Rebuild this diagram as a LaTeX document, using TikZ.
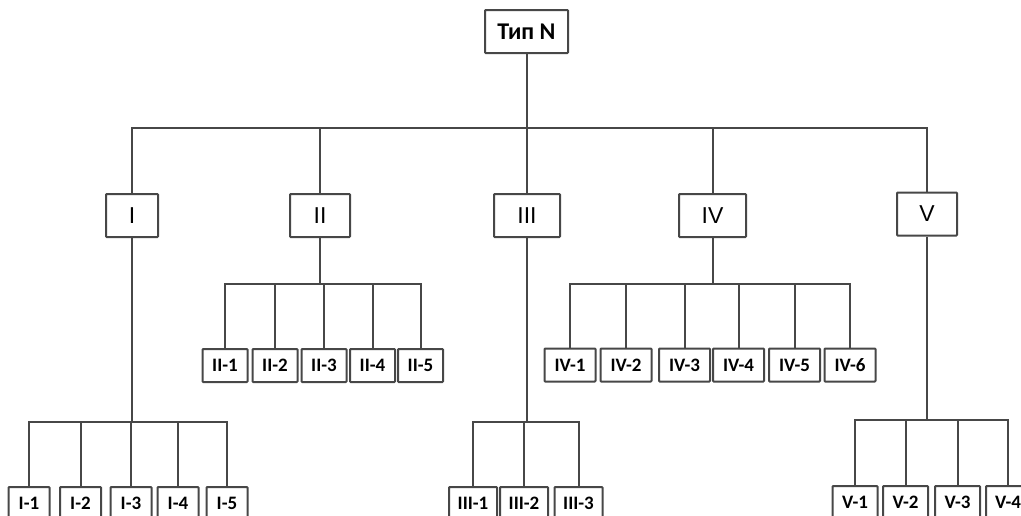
\documentclass[tikz,border=0pt]{standalone}
\usepackage{fontspec}
\setmainfont{Carlito}
\newfontfamily\lsans{Liberation Sans}
\begin{document}
\begin{tikzpicture}[x=1pt,y=-1pt,
  box/.style={draw=black!72, line width=2pt, rounded corners=0.8pt, fill=white, inner sep=0pt},
  topbox/.style={box, minimum width=83pt, minimum height=43pt, font=\fontsize{24}{27}\selectfont\bfseries},
  lvone/.style={box, minimum height=43pt, font=\lsans\fontsize{23}{26}\selectfont},
  leaf/.style={box, minimum height=33pt, font=\fontsize{19}{22}\selectfont\bfseries},
  wire/.style={draw=black!72, line width=2pt}]
\useasboundingbox (0,0) rectangle (1021,515);
\clip (0,0) rectangle (1021,515);
% root
\node[topbox] (top) at (526.5,31.5) {Тип N};
% level 1
\node[lvone, minimum width=52pt] (I) at (132,215.5) {I};
\node[lvone, minimum width=60pt] (II) at (320,215.5) {II};
\node[lvone, minimum width=66pt] (III) at (527,215.5) {III};
\node[lvone, minimum width=67pt] (IV) at (712.5,215.5) {IV};
\node[lvone, minimum width=60pt] (V) at (927,214) {V};
% bus coordinates
\coordinate (b0) at (526.5,128);
\coordinate (bI) at (132,422);
\coordinate (bII) at (320,284);
\coordinate (bIII) at (527,422);
\coordinate (bIV) at (712.5,284);
\coordinate (bV) at (927,420);
% II leaves
\foreach \n/\x in {1/225,2/275,3/324,4/372.5,5/420.5}
  \node[leaf, minimum width=45pt] (II\n) at (\x,365.5) {II-\n};
% IV leaves
\foreach \n/\x in {1/570,2/626,3/684.5,4/738.5,5/794.5,6/850}
  \node[leaf, minimum width=51pt] (IV\n) at (\x,365) {IV-\n};
% I leaves
\foreach \n/\x in {1/29,2/80.5,3/131,4/178,5/227}
  \node[leaf, minimum width=41pt] (I\n) at (\x,503.5) {I-\n};
% III leaves
\foreach \n/\x in {1/473,2/524,3/578.5}
  \node[leaf, minimum width=48pt] (III\n) at (\x,503.5) {III-\n};
% V leaves
\foreach \n/\x in {1/855,2/905.5,3/957.5}
  \node[leaf, minimum width=45pt] (V\n) at (\x,502.5) {V-\n};
\node[leaf, minimum width=44pt] (V4) at (1008,502.5) {V-4};
% connectors
\draw[wire] (top) -- (b0);
\foreach \m in {I,II,III,IV,V} \draw[wire] (b0) -| (\m);
\draw[wire] (I) -- (bI);
\draw[wire] (II) -- (bII);
\draw[wire] (III) -- (bIII);
\draw[wire] (IV) -- (bIV);
\draw[wire] (V) -- (bV);
\foreach \n in {1,...,5} \draw[wire] (bII) -| (II\n);
\foreach \n in {1,...,6} \draw[wire] (bIV) -| (IV\n);
\foreach \n in {1,...,5} \draw[wire] (bI) -| (I\n);
\foreach \n in {1,...,3} \draw[wire] (bIII) -| (III\n);
\foreach \n in {1,...,4} \draw[wire] (bV) -| (V\n);
\end{tikzpicture}
\end{document}
